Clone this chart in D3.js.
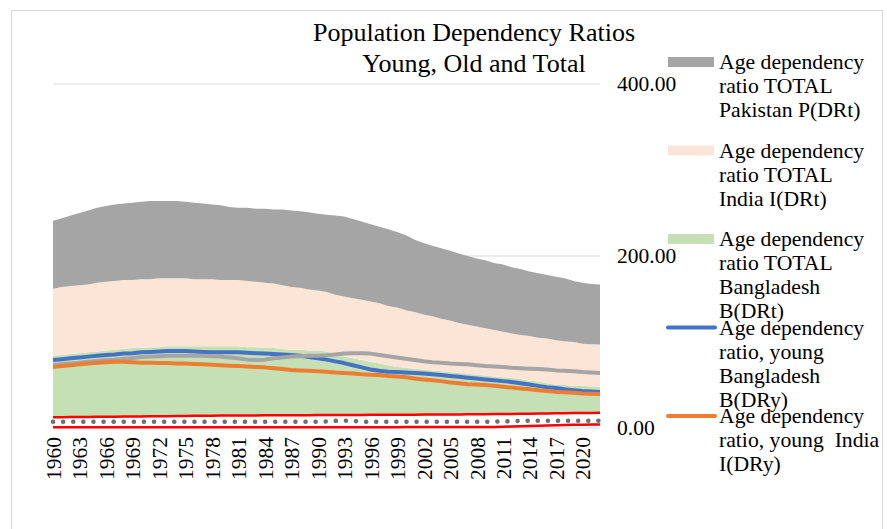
<!DOCTYPE html>
<html>
<head>
<meta charset="utf-8">
<script src="https://cdn.jsdelivr.net/npm/d3@7"></script>
<style>
  body { margin: 0; background: #fff; }
  svg text { font-family: "Liberation Serif", "Times New Roman", serif; fill: #000; }
</style>
</head>
<body>
<svg width="887" height="529"></svg>
<script>
// categories
const years = d3.range(1960, 2023);
const xLabelYears = d3.range(1960, 2021, 3);
const yTicks = [0, 200, 400];

// stacked area series (bottom to top)
const oldBase = [
  12.5, 12.6, 12.7, 12.8, 12.9, 13.0, 13.1, 13.2, 13.3, 13.4,
  13.5, 13.6, 13.7, 13.8, 13.9, 14.0, 14.1, 14.2, 14.3, 14.4,
  14.5, 14.5, 14.6, 14.6, 14.7, 14.7, 14.8, 14.8, 14.9, 14.9,
  15.0, 15.0, 15.1, 15.1, 15.2, 15.2, 15.3, 15.3, 15.4, 15.4,
  15.5, 15.5, 15.6, 15.6, 15.7, 15.7, 15.8, 15.9, 16.0, 16.1,
  16.2, 16.3, 16.4, 16.5, 16.6, 16.8, 17.0, 17.1, 17.2, 17.3,
  17.4, 17.5, 17.6];
const bangladeshTotal = [
  71.5, 72.4, 73.3, 74.2, 75.1, 76.0, 76.9, 77.8, 78.7, 79.6,
  79.5, 80.4, 80.3, 81.2, 81.1, 81.0, 80.9, 80.8, 80.7, 80.6,
  80.5, 80.5, 79.4, 79.4, 78.3, 78.3, 77.2, 76.2, 76.1, 75.1,
  75.0, 74.0, 70.9, 67.9, 65.8, 63.8, 61.7, 59.7, 57.6, 55.6,
  54.5, 53.5, 52.4, 51.4, 50.3, 49.3, 48.2, 47.1, 46.0, 44.9,
  43.8, 42.7, 41.6, 40.5, 38.4, 37.2, 35.0, 32.9, 32.8, 31.7,
  31.6, 30.8, 30.4];
const indiaTotal = [
  78, 79, 79, 79, 79, 80, 80, 80, 80, 79,
  80, 79, 80, 79, 79, 79, 78, 78, 78, 77,
  77, 77, 77, 76, 76, 75, 74, 73, 72, 71,
  70, 69, 69, 70, 70, 70, 70, 70, 69, 69,
  67, 66, 64, 63, 61, 60, 58, 57, 56, 55,
  54, 53, 52, 51, 52, 51, 52, 52, 51, 51,
  49, 49, 49];
const pakistanTotal = [
  79, 80, 82, 84, 86, 87, 88, 89, 89, 90,
  90, 91, 90, 90, 90, 89, 89, 88, 87, 87,
  85, 84, 85, 85, 86, 86, 88, 89, 89, 90,
  89, 90, 92, 93, 92, 91, 90, 89, 89, 88,
  87, 84, 83, 82, 82, 81, 81, 80, 79, 79,
  78, 78, 77, 77, 75, 75, 74, 74, 73, 71,
  71, 70, 70];

// line series
const bangladeshYoung = [
  79, 80, 81, 82, 83, 84, 85, 85.5, 86.5, 87,
  88, 88.5, 89, 89.5, 89.5, 89.5, 89, 88.5, 88, 88,
  88, 88, 87.5, 87, 86.5, 86, 85.5, 85, 84, 82.5,
  81, 79.5, 77.5, 75.5, 73, 70.5, 68, 66.5, 65.5, 65,
  64.5, 64, 63.5, 62.5, 61.5, 60.5, 59.5, 58.5, 57.5, 56.5,
  55.5, 54.5, 53.5, 52, 50.5, 49, 47.5, 46.5, 45, 44,
  43, 42.5, 42];
const pakistanYoung = [
  73, 74, 75, 76, 77, 78, 79, 79.5, 80.5, 81.5,
  82.5, 83, 83.5, 84, 84, 84, 84, 84, 83.5, 83,
  82, 81, 79.5, 79, 79.5, 81, 82, 83, 83.5, 84,
  84, 84.5, 85.5, 86.5, 87, 87, 86.5, 85, 83.5, 82,
  80.5, 79, 77.5, 76.5, 76, 75, 74.5, 74, 73, 72,
  71.5, 71, 70, 69.5, 69, 68.5, 68, 67, 66.5, 66,
  65, 64.5, 64];
const indiaYoung = [
  71, 72, 73, 74, 75, 76, 76.5, 77, 77, 76.5,
  76, 76, 75.5, 75.5, 75, 75, 74.5, 74, 73.5, 73,
  72.5, 72, 71.5, 71, 70.5, 69.5, 68.5, 67.5, 67, 66.5,
  66, 65.5, 64.5, 64, 63.5, 62.5, 62, 61.5, 60.5, 60,
  59, 57.5, 56.5, 55.5, 54.5, 53, 52, 51, 50.5, 50,
  49, 48, 47, 46, 45, 44, 43, 42, 41.5, 41,
  40, 39.7, 39.5];
const oldLow = [
  0.8, 0.8, 0.8, 0.8, 0.8, 0.8, 0.8, 0.8, 0.8, 0.8,
  0.9, 0.9, 0.9, 0.9, 0.9, 0.9, 0.9, 0.9, 0.9, 0.9,
  1.0, 1.0, 1.0, 1.0, 1.0, 1.0, 1.0, 1.0, 1.0, 1.0,
  1.0, 1.0, 1.0, 1.0, 1.0, 1.0, 1.0, 1.0, 1.0, 1.0,
  1.1, 1.1, 1.1, 1.1, 1.1, 1.1, 1.1, 1.1, 1.1, 1.1,
  1.2, 1.4, 1.7, 2.0, 2.3, 2.6, 2.9, 3.2, 3.5, 3.7,
  3.9, 4.0, 4.0];
const oldMid = [
  7.3, 7.3, 7.3, 7.3, 7.3, 7.3, 7.3, 7.3, 7.3, 7.3,
  7.3, 7.3, 7.3, 7.3, 7.3, 7.3, 7.3, 7.3, 7.3, 7.3,
  7.3, 7.3, 7.3, 7.3, 7.3, 7.3, 7.3, 7.3, 7.3, 7.3,
  7.3, 7.6, 8.3, 8.5, 8.2, 7.5, 7.3, 7.3, 7.3, 7.3,
  7.3, 7.3, 7.3, 7.3, 7.3, 7.3, 7.3, 7.3, 7.3, 7.3,
  7.4, 7.6, 7.9, 8.3, 8.4, 8.4, 8.3, 8.3, 8.3, 8.3,
  8.3, 8.3, 8.3];

const areaSeries = [
  { key: "base", values: oldBase, color: "none" },
  { key: "Age dependency ratio TOTAL Bangladesh B(DRt)", values: bangladeshTotal, color: "#c5e0b4" },
  { key: "Age dependency ratio TOTAL India I(DRt)", values: indiaTotal, color: "#fbe5d6" },
  { key: "Age dependency ratio TOTAL Pakistan P(DRt)", values: pakistanTotal, color: "#a5a5a5" }
];

const svg = d3.select("svg");

// chart frame
svg.append("rect")
  .attr("x", 11.5).attr("y", 10.5)
  .attr("width", 871).attr("height", 540)
  .attr("fill", "#fff").attr("stroke", "#d9d9d9");

const x = d3.scalePoint().domain(years).range([53, 600]);
const y = d3.scaleLinear().domain([0, 400]).range([428, 84]);

// gridlines
svg.append("g").selectAll("line")
  .data(yTicks)
  .join("line")
  .attr("x1", 53).attr("x2", 600)
  .attr("y1", d => y(d)).attr("y2", d => y(d))
  .attr("stroke", "#d9d9d9").attr("stroke-width", 1.2);

// stacked areas
const table = years.map((yr, i) => {
  const row = { year: yr };
  areaSeries.forEach(s => { row[s.key] = s.values[i]; });
  return row;
});
const stacked = d3.stack().keys(areaSeries.map(s => s.key))(table);
const area = d3.area()
  .x(d => x(d.data.year))
  .y0(d => y(d[0]))
  .y1(d => y(d[1]));

svg.append("g").selectAll("path")
  .data(stacked)
  .join("path")
  .attr("d", area)
  .attr("fill", (d, i) => areaSeries[i].color);

// lines
const line = d3.line()
  .x((d, i) => x(years[i]))
  .y(d => y(d));

const lineSeries = [
  { values: oldBase, color: "#ff0000", width: 2.5 },
  { values: oldLow, color: "#ff0000", width: 2.5 },
  { values: oldMid, color: "#6f6f6f", width: 4.5, dash: "0.1,10" },
  { values: bangladeshYoung, color: "#4472c4", width: 4 },
  { values: pakistanYoung, color: "#a5a5a5", width: 4 },
  { values: indiaYoung, color: "#ed7d31", width: 4 }
];

svg.append("g").selectAll("path")
  .data(lineSeries)
  .join("path")
  .attr("d", d => line(d.values))
  .attr("fill", "none")
  .attr("stroke", d => d.color)
  .attr("stroke-width", d => d.width)
  .attr("stroke-linecap", d => d.dash ? "round" : "butt")
  .attr("stroke-linejoin", "round")
  .attr("stroke-dasharray", d => d.dash || null);

// right axis
const yAxis = svg.append("g")
  .attr("transform", "translate(611,0)")
  .call(d3.axisRight(y).tickValues(yTicks).tickFormat(d3.format(".2f")).tickSize(0).tickPadding(6));
yAxis.select(".domain").remove();
yAxis.selectAll("text")
  .style("font-family", '"Liberation Serif", serif')
  .style("font-size", "21.5px")
  .attr("fill", "#000");

// x labels
const xAxis = svg.append("g")
  .attr("transform", "translate(0,437)")
  .call(d3.axisBottom(x).tickValues(xLabelYears).tickSize(0).tickPadding(0));
xAxis.select(".domain").remove();
xAxis.selectAll("text")
  .style("font-family", '"Liberation Serif", serif')
  .style("font-size", "21.5px")
  .attr("fill", "#000")
  .attr("text-anchor", "end")
  .attr("transform", "rotate(-90)")
  .attr("x", 0)
  .attr("y", 0)
  .attr("dy", "0.35em");

// title
const title = ["Population Dependency Ratios", "Young, Old and Total"];
svg.append("g").selectAll("text")
  .data(title)
  .join("text")
  .attr("x", 474)
  .attr("y", (d, i) => 41 + i * 31)
  .attr("text-anchor", "middle")
  .style("font-size", "26px")
  .text(d => d);

// legend
const legendItems = [
  { lines: ["Age dependency", "ratio TOTAL", "Pakistan P(DRt)"], color: "#a5a5a5", type: "area" },
  { lines: ["Age dependency", "ratio TOTAL", "India I(DRt)"], color: "#fbe5d6", type: "area" },
  { lines: ["Age dependency", "ratio TOTAL", "Bangladesh", "B(DRt)"], color: "#c5e0b4", type: "area" },
  { lines: ["Age dependency", "ratio, young", "Bangladesh", "B(DRy)"], color: "#4472c4", type: "line" },
  { lines: ["Age dependency", "ratio, young  India", "I(DRy)"], color: "#ed7d31", type: "line" }
];

const legend = svg.append("g").selectAll("g")
  .data(legendItems)
  .join("g")
  .attr("transform", (d, i) => `translate(0,${69 + i * 88.5})`);

legend.filter(d => d.type === "area").append("rect")
  .attr("x", 668).attr("y", -12)
  .attr("width", 46).attr("height", 10)
  .attr("fill", d => d.color);
legend.filter(d => d.type === "line").append("line")
  .attr("x1", 668).attr("x2", 715)
  .attr("y1", -7).attr("y2", -7)
  .attr("stroke", d => d.color)
  .attr("stroke-width", 4)
  .attr("stroke-linecap", "round");

legend.append("text")
  .attr("x", 719)
  .style("font-size", "21.7px")
  .style("white-space", "pre")
  .selectAll("tspan")
  .data(d => d.lines)
  .join("tspan")
  .attr("x", 719)
  .attr("y", (d, i) => i * 24)
  .text(d => d);
</script>
</body>
</html>
